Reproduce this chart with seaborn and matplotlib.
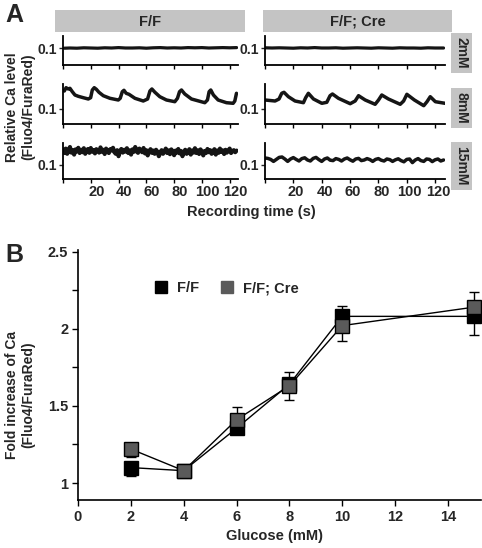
import numpy as np
import matplotlib
matplotlib.use('Agg')
import matplotlib.pyplot as plt
import seaborn as sns
from matplotlib.patches import Rectangle
from matplotlib.lines import Line2D

# ---------------- data ----------------
# Panel A traces (time in s, relative Ca ratio)
ff_2mM_t = [1, 5, 10, 15, 20, 25, 30, 35, 40, 45, 50, 55, 60, 65, 70, 75, 80, 85, 90, 95, 100, 105, 110, 115, 120, 125]
ff_2mM_v = [0.099, 0.100, 0.099, 0.101, 0.100, 0.099, 0.101, 0.100, 0.102, 0.100, 0.100, 0.101, 0.099, 0.101, 0.102, 0.100, 0.101, 0.100, 0.102, 0.101, 0.102, 0.100, 0.101, 0.102, 0.101, 0.102]
cre_2mM_t = [0, 5, 10, 15, 20, 25, 30, 35, 40, 45, 50, 55, 60, 65, 70, 75, 80, 85, 90, 95, 100, 105, 110, 115, 120, 126]
cre_2mM_v = [0.101, 0.100, 0.101, 0.100, 0.099, 0.101, 0.100, 0.102, 0.100, 0.100, 0.101, 0.099, 0.100, 0.101, 0.100, 0.099, 0.101, 0.100, 0.099, 0.101, 0.100, 0.100, 0.099, 0.101, 0.100, 0.100]

ff_8mM_t = [0.96, 2.2, 3.8, 5.0, 6.7, 8.6, 11.0, 14.6, 18.2, 19.9, 21.1, 22.5, 24.0, 25.9, 29.0, 33.8,
            39.8, 41.2, 42.7, 43.9, 45.5, 47.5, 51.8, 57.8, 60.9, 62.6, 64.0, 66.2, 69.7, 74.5,
            80.5, 82.4, 83.9, 85.3, 87.7, 92.5, 102.1, 104.0, 105.2, 106.4, 108.3, 111.7, 117.7,
            122.5, 123.7, 124.9]
ff_8mM_v = [0.1875, 0.204, 0.1975, 0.201, 0.184, 0.1675, 0.161, 0.154, 0.1475, 0.154, 0.1925, 0.204, 0.196,
            0.181, 0.164, 0.151, 0.1425, 0.151, 0.184, 0.191, 0.176, 0.171, 0.151, 0.1375, 0.1475,
            0.1875, 0.1975, 0.181, 0.159, 0.1425, 0.134, 0.151, 0.184, 0.1925, 0.1725, 0.1475, 0.129,
            0.1425, 0.184, 0.1925, 0.1675, 0.1425, 0.129, 0.126, 0.1375, 0.176]

cre_8mM_t = [0, 7.1, 9.9, 11.8, 13.4, 16.5, 21.2, 27.1, 28.7, 30.6, 34.2, 40.1, 43.6, 45.9, 47.6, 51.8,
             60.1, 63.6, 66.0, 70.7, 77.7, 80.1, 82.4, 87.1, 95.4, 97.8, 100.1, 105.4, 112.0, 114.3,
             116.6, 120.2, 127.0]
cre_8mM_v = [0.1425, 0.1375, 0.1475, 0.176, 0.181, 0.159, 0.1375, 0.129, 0.154, 0.176, 0.1475, 0.126,
             0.131, 0.164, 0.1725, 0.151, 0.124, 0.1375, 0.164, 0.1425, 0.121, 0.1425, 0.1675, 0.1475,
             0.121, 0.1375, 0.171, 0.1425, 0.114, 0.134, 0.159, 0.134, 0.126]

ff_15mM_v = [0.178, 0.160, 0.182, 0.156, 0.172, 0.190, 0.162, 0.174, 0.152, 0.178,
             0.168, 0.186, 0.160, 0.176, 0.164, 0.184, 0.156, 0.173, 0.180, 0.161,
             0.185, 0.167, 0.174, 0.158, 0.179, 0.172, 0.162, 0.188, 0.166, 0.176,
             0.155, 0.182, 0.168, 0.160, 0.179, 0.173, 0.186, 0.164, 0.156, 0.174,
             0.144, 0.170, 0.180, 0.162, 0.176, 0.167, 0.184, 0.160, 0.173, 0.152,
             0.178, 0.166, 0.190, 0.168, 0.161, 0.182, 0.172, 0.164, 0.185, 0.158,
             0.174, 0.148, 0.168, 0.179, 0.161, 0.172, 0.156, 0.176, 0.166, 0.144,
             0.162, 0.174, 0.156, 0.168, 0.182, 0.160, 0.173, 0.154, 0.178, 0.166,
             0.149, 0.172, 0.162, 0.180, 0.158, 0.170, 0.144, 0.164, 0.176, 0.156,
             0.168, 0.179, 0.152, 0.172, 0.162, 0.184, 0.160, 0.173, 0.155, 0.178,
             0.167, 0.148, 0.170, 0.160, 0.180, 0.164, 0.174, 0.156, 0.168, 0.179,
             0.152, 0.172, 0.161, 0.182, 0.166, 0.173, 0.155, 0.176, 0.162, 0.172,
             0.182, 0.160, 0.170, 0.174, 0.164, 0.172]
ff_15mM_step_s = 1.0

cre_15mM_v = [0.135, 0.133, 0.128, 0.118, 0.128, 0.138, 0.140, 0.130, 0.118, 0.130, 0.137, 0.128,
              0.120, 0.132, 0.136, 0.125, 0.120, 0.133, 0.138, 0.127, 0.118, 0.130, 0.135, 0.124,
              0.122, 0.132, 0.128, 0.120, 0.130, 0.135, 0.126, 0.119, 0.130, 0.133, 0.122, 0.125,
              0.132, 0.127, 0.118, 0.128, 0.132, 0.124, 0.120, 0.130, 0.127, 0.118, 0.126, 0.131,
              0.122, 0.116, 0.128, 0.130, 0.112, 0.125, 0.132, 0.122, 0.118, 0.130, 0.128, 0.117,
              0.126, 0.130, 0.120, 0.125]
cre_15mM_step_s = 2.0

col_titles = ['F/F', 'F/F; Cre']
row_titles = ['2mM', '8mM', '15mM']
time_ticks = [0, 20, 40, 60, 80, 100, 120]
time_labels = ['', '20', '40', '60', '80', '100', '120']

# Panel B
glucose = [2, 4, 6, 8, 10, 15]
ff_mean = [1.10, 1.08, 1.355, 1.64, 2.08, 2.08]
ff_err_lo = [0.055, 0.0, 0.0, 0.0, 0.0, 0.12]
ff_err_hi = [0.0, 0.0, 0.0, 0.08, 0.07, 0.0]
cre_mean = [1.22, 1.08, 1.41, 1.63, 2.02, 2.14]
cre_err_lo = [0.05, 0.0, 0.0, 0.09, 0.10, 0.0]
cre_err_hi = [0.0, 0.0, 0.08, 0.0, 0.0, 0.10]
series_labels = ['F/F', 'F/F; Cre']

# ---------------- style ----------------
sns.set_style('ticks')
plt.rcParams['font.family'] = ['Liberation Sans', 'DejaVu Sans']
plt.rcParams['font.weight'] = 'bold'
plt.rcParams['axes.labelweight'] = 'bold'

W, H = 482, 548
fig = plt.figure(figsize=(W / 100, H / 100), dpi=100)


def ax_px(x0, y0, x1, y1):
    return fig.add_axes([x0 / W, 1 - y1 / H, (x1 - x0) / W, (y1 - y0) / H])


def txt(px, py, s, **kw):
    return fig.text(px / W, 1 - py / H, s, **kw)


GRAY_BOX = '#c4c4c4'
TRACE = '#151515'

cols = [(63, 238, 126.0, 4.0), (265, 445, 127.0, 2.0)]
rows = [(36, 65, (0.015, 0.16)), (84, 124, (0.0225, 0.2225)), (143, 179, (0.03, 0.21))]

traces = [
    [(ff_2mM_t, ff_2mM_v), (cre_2mM_t, cre_2mM_v)],
    [(ff_8mM_t, ff_8mM_v), (cre_8mM_t, cre_8mM_v)],
    [([i * ff_15mM_step_s for i in range(len(ff_15mM_v))], ff_15mM_v),
     ([i * cre_15mM_step_s for i in range(len(cre_15mM_v))], cre_15mM_v)],
]
lws = [[2.3, 2.3], [2.5, 2.5], [3.0, 2.5]]

for r, (y0, y1, ylim) in enumerate(rows):
    for c, (x0, x1, xmax, lab_off) in enumerate(cols):
        ax = ax_px(x0, y0, x1, y1)
        t, v = traces[r][c]
        sns.lineplot(x=t, y=v, ax=ax, color=TRACE, linewidth=lws[r][c], estimator=None, sort=False)
        ax.set_xlim(0, xmax)
        ax.set_ylim(*ylim)
        ax.set_facecolor('none')
        for s in ['top', 'right']:
            ax.spines[s].set_visible(False)
        for s in ['left', 'bottom']:
            ax.spines[s].set_linewidth(1.3)
            ax.spines[s].set_color('black')
        ax.set_xticks(time_ticks, minor=True)
        if r == 2:
            ax.set_xticks([tt + lab_off for tt in time_ticks[1:]], time_labels[1:])
        else:
            ax.set_xticks([])
        ax.tick_params(axis='x', which='minor', length=3, width=1, color='black')
        ax.tick_params(axis='x', which='major', length=0, pad=4, labelsize=10.5)
        ax.set_yticks([0.1], ['0.1'])
        ax.tick_params(axis='y', length=3, width=1, pad=1.5, labelsize=10)
        ax.set_xlabel('')
        ax.set_ylabel('')

# column headers
for (bx0, bx1), title in zip([(55, 245), (263, 452)], col_titles):
    fig.patches.append(Rectangle((bx0 / W, 1 - 32 / H), (bx1 - bx0) / W, 22 / H,
                                 transform=fig.transFigure, facecolor=GRAY_BOX, edgecolor='none'))
    txt((bx0 + bx1) / 2, 21.5, title, ha='center', va='center', fontsize=10.5, fontweight='bold')

# row labels
for cy, title in zip([53, 108, 166], row_titles):
    txt(461.5, cy, title, rotation=-90, ha='center', va='center', fontsize=10, fontweight='bold',
        bbox=dict(boxstyle='square,pad=0.28', facecolor=GRAY_BOX, edgecolor='none'))

txt(251, 212, 'Recording time (s)', ha='center', va='center', fontsize=10.5, fontweight='bold')
txt(20, 107, 'Relative Ca level\n(Fluo4/FuraRed)', rotation=90, ha='center', va='center',
    fontsize=10, fontweight='bold', linespacing=1.15, multialignment='center')
txt(14, 15, 'A', ha='center', va='center', fontsize=18, fontweight='bold')
txt(14, 255, 'B', ha='center', va='center', fontsize=18, fontweight='bold')

# ---------------- Panel B ----------------
axB = ax_px(78, 250, 481, 500)
axB.set_facecolor('none')
axB.errorbar(glucose, ff_mean, yerr=[ff_err_lo, ff_err_hi], fmt='none', ecolor='black',
             elinewidth=1, capsize=3.5, capthick=1, zorder=2)
axB.errorbar(glucose, cre_mean, yerr=[cre_err_lo, cre_err_hi], fmt='none', ecolor='black',
             elinewidth=1, capsize=3.5, capthick=1, zorder=2)
sns.lineplot(x=glucose, y=ff_mean, ax=axB, color='black', linewidth=1, marker='s', markersize=10,
             markerfacecolor='black', markeredgecolor='black', markeredgewidth=1, zorder=3)
sns.lineplot(x=glucose, y=cre_mean, ax=axB, color='black', linewidth=1, marker='s', markersize=10,
             markerfacecolor='#5a5a5a', markeredgecolor='black', markeredgewidth=1, zorder=4)
axB.set_xlim(0, 15.25)
axB.set_ylim(0.89, 2.51)
for s in ['top', 'right']:
    axB.spines[s].set_visible(False)
for s in ['left', 'bottom']:
    axB.spines[s].set_linewidth(1.2)
    axB.spines[s].set_color('black')
axB.set_xticks([0, 2, 4, 6, 8, 10, 12, 14], ['0', '2', '4', '6', '8', '10', '12', '14'])
axB.set_yticks([1, 1.5, 2, 2.5], ['1', '1.5', '2', '2.5'])
axB.set_yticks([1.25, 1.75, 2.25], minor=True)
axB.tick_params(axis='both', which='both', length=4, width=1, color='black', labelsize=10.5)
axB.tick_params(axis='y', pad=3)
axB.tick_params(axis='x', pad=3)
axB.set_xlabel('')
axB.set_ylabel('')

handles = [Line2D([], [], marker='s', ls='none', markersize=8, markerfacecolor='black',
                  markeredgecolor='black'),
           Line2D([], [], marker='s', ls='none', markersize=8, markerfacecolor='#5a5a5a',
                  markeredgecolor='#5a5a5a')]
axB.legend(handles, series_labels, loc='center left', bbox_to_anchor=((154 - 78) / 403, (500 - 288) / 250),
           frameon=False, ncol=2, handlelength=1.0, handletextpad=0.6, columnspacing=1.4,
           borderpad=0, borderaxespad=0, prop={'size': 10.5, 'weight': 'bold'})

txt(275, 536, 'Glucose (mM)', ha='center', va='center', fontsize=10.5, fontweight='bold')
txt(20, 395, 'Fold increase of Ca\n(Fluo4/FuraRed)', rotation=90, ha='center', va='center',
    fontsize=10, fontweight='bold', linespacing=1.15, multialignment='center')

fig.savefig('out.png', dpi=100)
